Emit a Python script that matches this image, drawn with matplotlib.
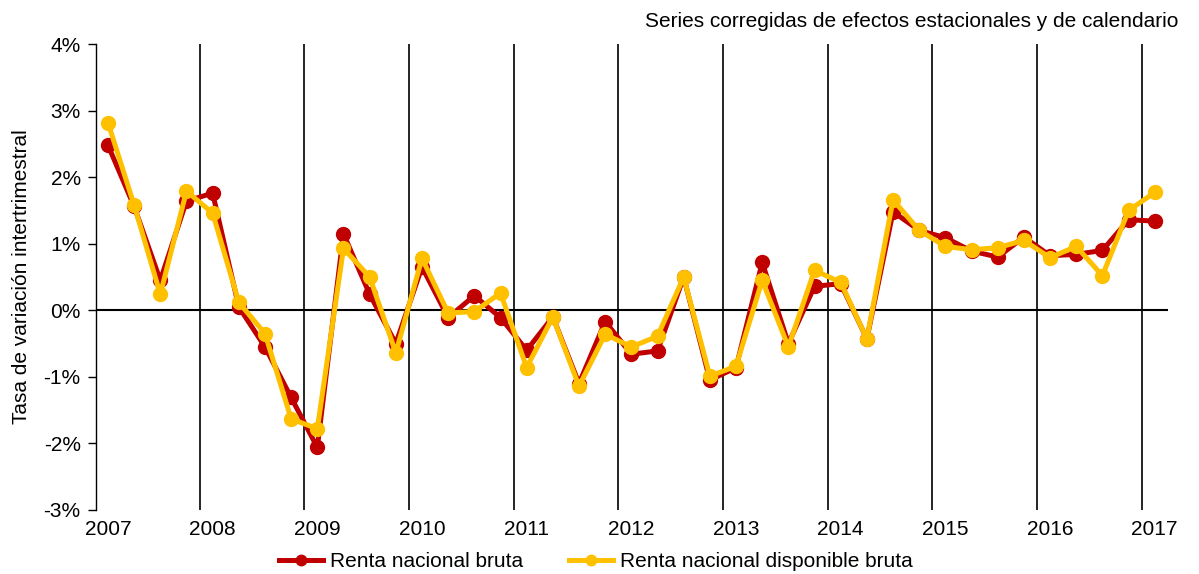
import matplotlib
matplotlib.use("Agg")
import matplotlib.pyplot as plt
from matplotlib.ticker import FuncFormatter, MultipleLocator

plt.rcParams['font.family'] = ['Liberation Sans', 'DejaVu Sans']

years = ['2007', '2008', '2009', '2010', '2011', '2012', '2013', '2014', '2015', '2016', '2017']

renta_bruta = [2.48, 1.56, 0.45, 1.64, 1.76, 0.05, -0.55, -1.31, -2.06,
               1.15, 0.24, -0.50, 0.65, -0.11, 0.22, -0.11, -0.60, -0.10,
               -1.10, -0.17, -0.66, -0.61, 0.50, -1.05, -0.86, 0.72, -0.50,
               0.36, 0.40, -0.43, 1.48, 1.20, 1.09, 0.89, 0.80, 1.10, 0.82,
               0.84, 0.90, 1.36, 1.34]
renta_disponible = [2.82, 1.58, 0.24, 1.79, 1.46, 0.12, -0.35, -1.63, -1.78,
                    0.93, 0.50, -0.64, 0.78, -0.04, -0.02, 0.26, -0.86, -0.10,
                    -1.14, -0.36, -0.55, -0.39, 0.50, -0.99, -0.84, 0.45, -0.55,
                    0.60, 0.42, -0.43, 1.66, 1.20, 0.96, 0.91, 0.94, 1.05, 0.79,
                    0.96, 0.52, 1.50, 1.77]

red = '#C00000'
yellow = '#FFC000'
fs = 15

fig = plt.figure(figsize=(11.99, 5.74), dpi=100)
ax = fig.add_axes([0.080, 0.1115, 0.894, 0.8118])

x = list(range(len(renta_bruta)))
ax.plot(x, renta_bruta, color=red, lw=3.6, marker='o', ms=10, label='Renta nacional bruta', zorder=3)
ax.plot(x, renta_disponible, color=yellow, lw=3.6, marker='o', ms=10, label='Renta nacional disponible bruta', zorder=4)

ax.set_xlim(-0.46, 40.5)
ax.set_ylim(-3, 4)

# vertical year separators
for k in range(1, len(years)):
    ax.axvline(4 * k - 0.5, color='black', lw=1.2, zorder=1)
ax.axhline(0, color='black', lw=1.5, zorder=2)

ax.yaxis.set_major_locator(MultipleLocator(1))
ax.yaxis.set_major_formatter(FuncFormatter(lambda v, p: f'{int(round(v))}%'))
ax.set_xticks([4 * k for k in range(len(years))])
ax.set_xticklabels(years)
ax.tick_params(axis='x', length=0, pad=7, labelsize=fs)
ax.tick_params(axis='y', direction='out', length=6, width=1, labelsize=fs, pad=5)

for s in ['top', 'right', 'bottom']:
    ax.spines[s].set_visible(False)
ax.spines['left'].set_linewidth(1)

ax.set_ylabel('Tasa de variación intertrimestral', fontsize=fs, labelpad=9)

fig.text(0.983, 0.962, 'Series corregidas de efectos estacionales y de calendario',
         ha='right', va='center', fontsize=fs)

leg = fig.legend(loc='center', bbox_to_anchor=(0.497, 0.021), ncol=2, frameon=False,
                 fontsize=fs, handlelength=2.1, handletextpad=0.35, columnspacing=2.2,
                 borderaxespad=0, markerscale=0.75)

fig.savefig('out.png', dpi=100)
